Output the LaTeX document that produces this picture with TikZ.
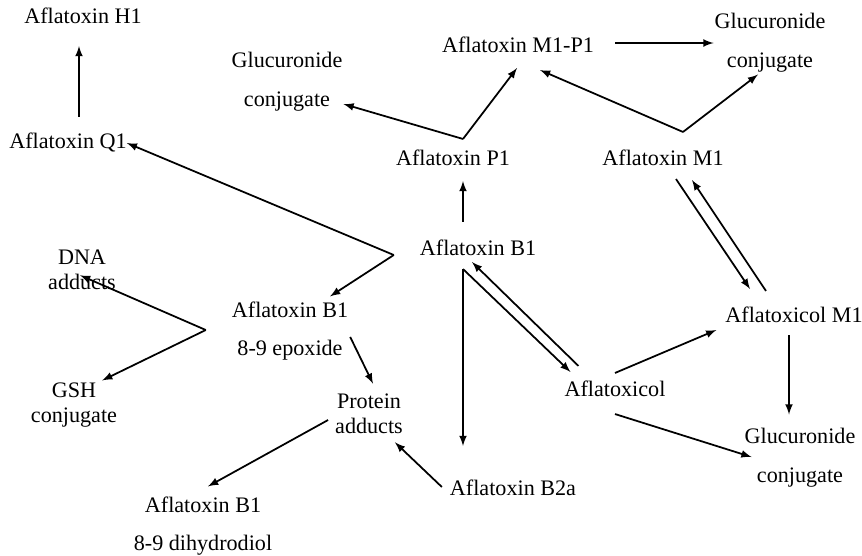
\documentclass[tikz,border=0pt]{standalone}
\usepackage{fontspec}
\setmainfont{Liberation Serif}
\usepackage{tikz}

\tikzset{
    lbl/.style = {inner sep=1pt, font=\fontsize{12.6}{15}\selectfont, text height=8.6pt, text depth=2.7pt},
    pair/.style = {inner sep=1pt, align=center, font=\fontsize{12.6}{14.5}\selectfont},
    wide/.style = {inner sep=1pt, align=center, font=\fontsize{12.6}{22}\selectfont},
    arr/.style = {line width=1pt, -latex}
}

\begin{document}
\begin{tikzpicture}[x=0.02cm, y=-0.02cm]
    		\useasboundingbox (0,0) rectangle (862,555);
    		
    		\node[lbl] (h1) at (83,18) {Aflatoxin H1};
    		\node[lbl] (q1) at (68,143) {Aflatoxin Q1};
    		\node[wide] (gl1) at (287,82) {Glucuronide\\conjugate};
    		\node[lbl] (m1p1) at (518,47) {Aflatoxin M1-P1};
    		\node[wide] (gl2) at (770,43) {Glucuronide\\conjugate};
    		\node[lbl] (p1) at (453,160) {Aflatoxin P1};
    		\node[lbl] (m1) at (663,160) {Aflatoxin M1};
    		\node[lbl] (b1) at (478,250) {Aflatoxin B1};
    		\node[wide] (epo) at (290,331) {Aflatoxin B1\\8-9 epoxide};
    		\node[pair] (dna) at (82,270) {DNA\\adducts};
    		\node[pair] (gsh) at (74,405) {GSH\\conjugate};
    		\node[pair] (prot) at (369,414) {Protein\\adducts};
    		\node[wide] (diol) at (203,526) {Aflatoxin B1\\8-9 dihydrodiol};
    		\node[lbl] (b2a) at (513,490) {Aflatoxin B2a};
    		\node[lbl] (alc) at (615,391) {Aflatoxicol};
    		\node[lbl] (alcm1) at (794,317) {Aflatoxicol M1};
    		\node[wide] (gl3) at (800,458) {Glucuronide\\conjugate};
    		
    		% branch points
    		\coordinate (jP) at ([shift={(10,-9)}]p1.north);
    		\coordinate (jM) at ([shift={(20,-16)}]m1.north);
    		\coordinate (jQ) at ([shift={(-24,5)}]b1.west);
    		\coordinate (jE) at ([shift={(-24,-1)}]epo.west);
    		
    		\draw[arr] ([shift={(11,-14)}]q1.north) -- ([shift={(-4,16)}]h1.south);
    		\draw[arr] (jP) -- ([shift={(-1,22)}]gl1.east);
    		\draw[arr] (jP) -- ([shift={(-1,9)}]m1p1.south);
    		\draw[arr] ([shift={(19,-4)}]m1p1.east) -- ([shift={(1,0)}]gl2.west);
    		\draw[arr] (jM) -- ([shift={(22,11)}]m1p1.south);
    		\draw[arr] (jM) -- ([shift={(-12,0)}]gl2.south);
    		\draw[arr] ([shift={(-15,-16)}]b1.north) -- ([shift={(10,9)}]p1.south);
    		\draw[arr] ([shift={(-15,7)}]b1.south) -- ([shift={(-50,-32)}]b2a.north);
    		\draw[arr] ([shift={(-15,7)}]b1.south) -- ([shift={(8,-7)}]alc.north west);
    		\draw[arr] ([shift={(16,-13)}]alc.north west) -- ([shift={(-6,0)}]b1.south);
    		\draw[arr] ([shift={(13,7)}]m1.south) -- ([shift={(-44,-16)}]alcm1.north);
    		\draw[arr] ([shift={(-28,-14)}]alcm1.north) -- ([shift={(29,8)}]m1.south);
    		\draw[arr] ([shift={(0,-6)}]alc.north) -- ([shift={(-7,13)}]alcm1.west);
    		\draw[arr] ([shift={(-5,6)}]alcm1.south) -- ([shift={(-11,-12)}]gl3.north);
    		\draw[arr] ([shift={(0,11)}]alc.south) -- ([shift={(9,-1)}]gl3.west);
    		\draw[arr] ([shift={(-6,-3)}]b2a.west) -- ([shift={(-10,6)}]prot.south east);
    		\draw[arr] ([shift={(-5,6)}]prot.west) -- ([shift={(5,-8)}]diol.north);
    		\draw[arr] ([shift={(0,6)}]epo.east) -- ([shift={(4,-8)}]prot.north);
    		\draw[arr] (jQ) -- ([shift={(-2,0)}]q1.east);
    		\draw[arr] (jQ) -- ([shift={(40,-3)}]epo.north);
    		\draw[arr] (jE) -- ([shift={(-2,-17)}]dna.south);
    		\draw[arr] (jE) -- ([shift={(-17,0)}]gsh.north east);
    		
    \end{tikzpicture}
\end{document}
